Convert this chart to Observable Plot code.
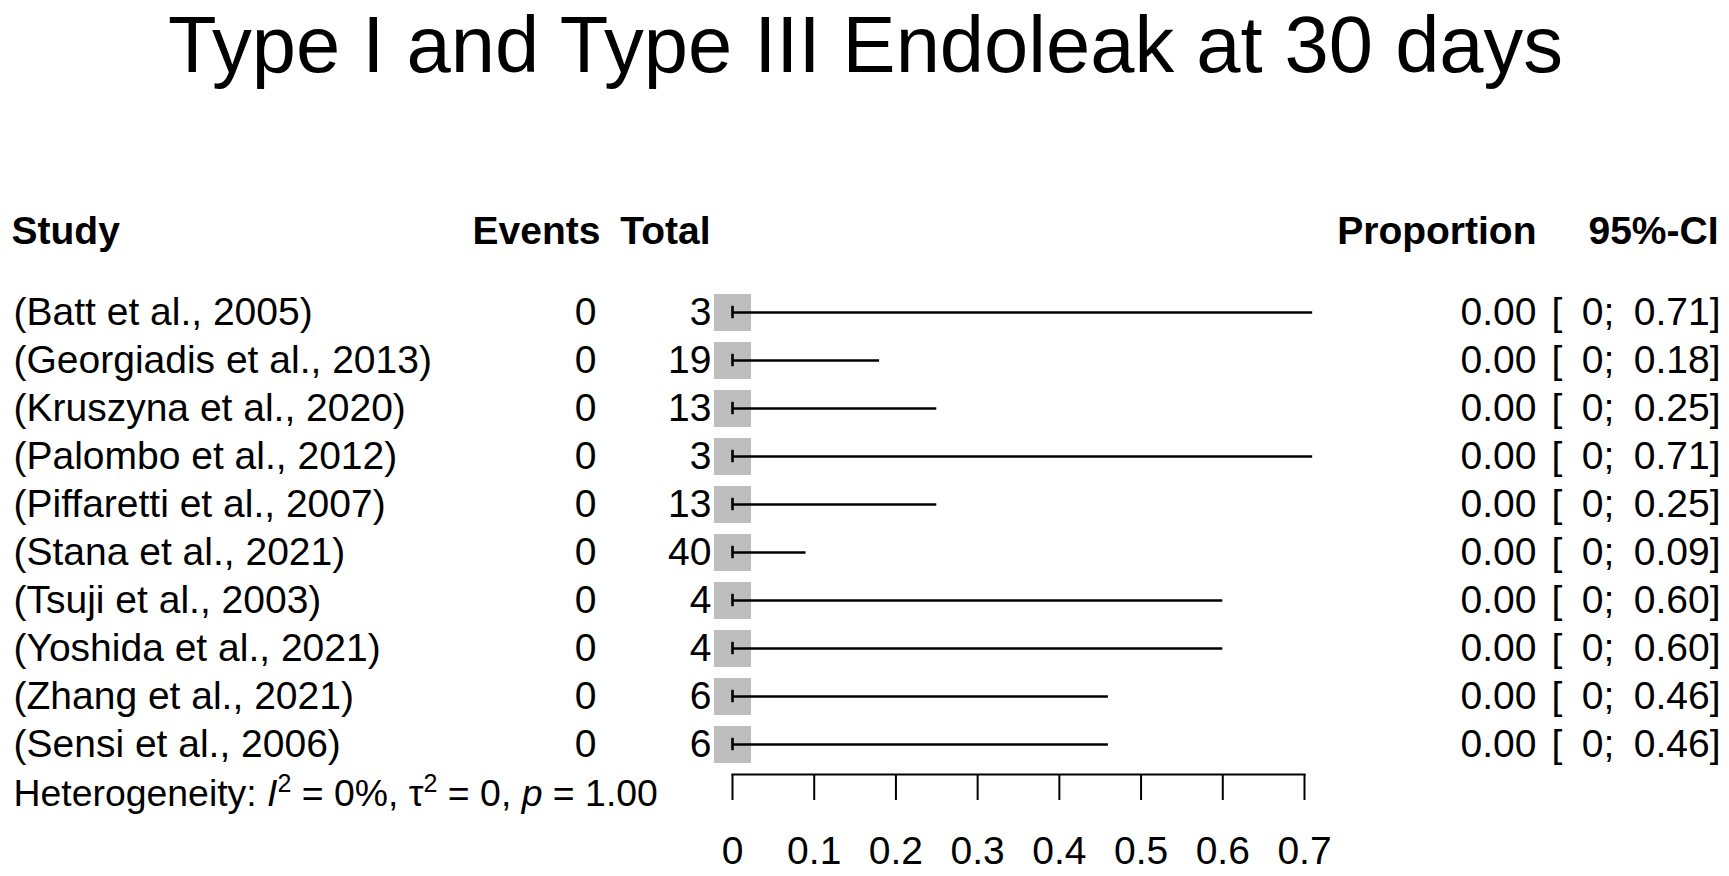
<!DOCTYPE html>
<html>
<head>
<meta charset="utf-8">
<script src="https://cdn.jsdelivr.net/npm/d3@7"></script>
<script src="https://cdn.jsdelivr.net/npm/@observablehq/plot@0.6"></script>
<style>
  html, body { margin: 0; padding: 0; background: #fff; }
  #title { height: 110px; box-sizing: border-box; padding-top: 5px; text-align: center;
           font-family: "Liberation Sans", Arial, sans-serif; font-size: 79.5px; line-height: 80px; color: #000; width: 1731px; }
  #chart svg { display: block; }
</style>
</head>
<body>
<div id="title">Type I and Type III Endoleak at 30 days</div>
<div id="chart"></div>
<script>
const studies = [
  "(Batt et al., 2005)",
  "(Georgiadis et al., 2013)",
  "(Kruszyna et al., 2020)",
  "(Palombo et al., 2012)",
  "(Piffaretti et al., 2007)",
  "(Stana et al., 2021)",
  "(Tsuji et al., 2003)",
  "(Yoshida et al., 2021)",
  "(Zhang et al., 2021)",
  "(Sensi et al., 2006)"
];
const events = [0, 0, 0, 0, 0, 0, 0, 0, 0, 0];
const totals = [3, 19, 13, 3, 13, 40, 4, 4, 6, 6];
const proportions = [0, 0, 0, 0, 0, 0, 0, 0, 0, 0];
const lowerCI = [0, 0, 0, 0, 0, 0, 0, 0, 0, 0];
const upperCI = [0.71, 0.18, 0.25, 0.71, 0.25, 0.09, 0.60, 0.60, 0.46, 0.46];
const xTicks = [0, 0.1, 0.2, 0.3, 0.4, 0.5, 0.6, 0.7];
const headers = ["Study", "Events", "Total", "Proportion", "95%-CI"];
const hetI2 = "0%", hetTau2 = "0", hetP = "1.00";

const SP = "\u2002";
const rows = studies.map((s, i) => ({
  study: s, events: events[i], total: totals[i], prop: proportions[i],
  lo: lowerCI[i], hi: upperCI[i],
  propText: proportions[i].toFixed(2),
  ciText: `[${SP}${lowerCI[i] === 0 ? "0" : lowerCI[i].toFixed(2)};${SP}${upperCI[i].toFixed(2)}]`
}));

const FS = 39;
const font = "'Liberation Sans', Arial, sans-serif";

const chart = Plot.plot({
  width: 1729,
  height: 766,
  marginLeft: 732,
  marginRight: 425,
  marginTop: 106,
  marginBottom: 102,
  style: { fontFamily: font, color: "#000", background: "#fff", overflow: "visible" },
  x: { domain: [0, 0.7] },
  y: { type: "band", domain: studies, range: [175.2, 661.2], padding: 0, axis: null },
  marks: [
    // squares
    Plot.dot(rows, { x: "prop", y: "study", symbol: "square", r: 20.9, fill: "#bebebe", stroke: "none" }),
    // CI lines
    Plot.ruleY(rows, { y: "study", x1: "lo", x2: "hi", stroke: "#000", strokeWidth: 2.6 }),
    Plot.tickX(rows, { x: "lo", y: "study", stroke: "#000", strokeWidth: 2.6, insetTop: 17.8, insetBottom: 17.8 }),
    // axis
    Plot.frame({ anchor: "bottom", stroke: "#000", strokeWidth: 2 }),
    Plot.axisX({ ticks: xTicks, tickFormat: d => d === 0 ? "0" : d3.format(".1f")(d), tickSize: 26, tickPadding: 36,
                 fontSize: FS, stroke: "#000", strokeWidth: 2, fill: "#000", label: null }),
    // columns
    Plot.text(rows, { y: "study", text: "study", frameAnchor: "left", textAnchor: "start", dx: -719, fontSize: FS, fill: "#000" }),
    Plot.text(rows, { y: "study", text: d => String(d.events), frameAnchor: "left", textAnchor: "end", dx: -136, fontSize: FS, fill: "#000" }),
    Plot.text(rows, { y: "study", text: d => String(d.total), frameAnchor: "left", textAnchor: "end", dx: -21, fontSize: FS, fill: "#000" }),
    Plot.text(rows, { y: "study", text: "propText", frameAnchor: "right", textAnchor: "end", dx: 232, fontSize: FS, fill: "#000" }),
    Plot.text(rows, { y: "study", text: "ciText", frameAnchor: "right", textAnchor: "end", dx: 416, fontSize: FS, fill: "#000" }),
    // headers
    Plot.text([headers[0]], { frameAnchor: "top-left", textAnchor: "start", dx: -721, fontSize: FS, fontWeight: "bold", fill: "#000" }),
    Plot.text([headers[1]], { frameAnchor: "top-left", textAnchor: "end", dx: -132, fontSize: FS, fontWeight: "bold", fill: "#000" }),
    Plot.text([headers[2]], { frameAnchor: "top-left", textAnchor: "end", dx: -22, fontSize: FS, fontWeight: "bold", fill: "#000" }),
    Plot.text([headers[3]], { frameAnchor: "top-right", textAnchor: "end", dx: 232, fontSize: FS, fontWeight: "bold", fill: "#000" }),
    Plot.text([headers[4]], { frameAnchor: "top-right", textAnchor: "end", dx: 414, fontSize: FS, fontWeight: "bold", fill: "#000" }),
    // heterogeneity
    Plot.text(["Heterogeneity"], { frameAnchor: "bottom-left", textAnchor: "start", dx: -719, dy: 31, fontSize: 37.4, fill: "#000", className: "het" })
  ]
});

document.getElementById("chart").appendChild(chart);

// rich text for heterogeneity line
const het = chart.querySelector(".het text");
if (het) {
  const sel = d3.select(het);
  sel.text(null);
  sel.append("tspan").text("Heterogeneity: ");
  sel.append("tspan").attr("font-style", "italic").text("I");
  sel.append("tspan").attr("font-size", 25).attr("dy", -14).text("2");
  sel.append("tspan").attr("dy", 14).text(` = ${hetI2}, τ`);
  sel.append("tspan").attr("font-size", 25).attr("dy", -14).text("2");
  sel.append("tspan").attr("dy", 14).text(` = ${hetTau2}, `);
  sel.append("tspan").attr("font-style", "italic").text("p");
  sel.append("tspan").text(` = ${hetP}`);
}
chart.querySelectorAll("text").forEach(t => t.setAttribute("xml:space", "preserve"));
</script>
</body>
</html>
